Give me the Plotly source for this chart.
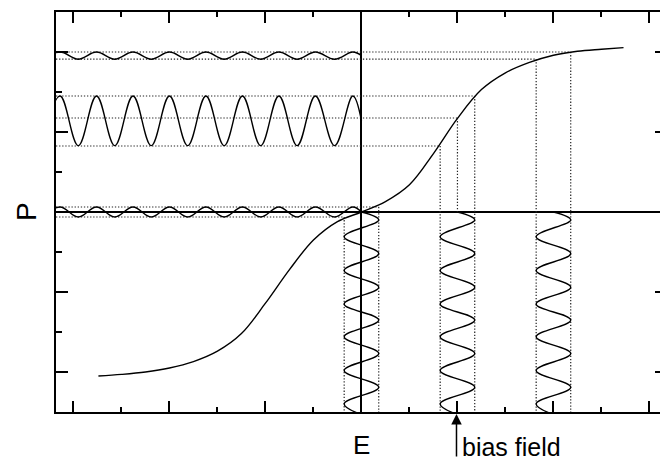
import plotly.graph_objects as go

# ---------------- data ----------------
# P(E) characteristic (sigmoid)
curve_E = [-2.74, -2.50, -2.25, -2.00, -1.75, -1.50, -1.25, -1.00, -0.75, -0.50,
           -0.25, 0.00, 0.25, 0.50, 0.75, 1.00, 1.25, 1.50, 1.75, 2.00,
           2.25, 2.50, 2.73]
curve_P = [-2.05, -2.03, -2.00, -1.95, -1.87, -1.74, -1.52, -1.14, -0.72, -0.35,
           -0.12, 0.00, 0.13, 0.34, 0.73, 1.17, 1.53, 1.74, 1.87, 1.96,
           2.01, 2.035, 2.055]

# input (driving) waves: bias levels, amplitude, turning points along P
bias_levels = [0.0, 1.0, 2.0]
drive_amp = 0.18
drive_P = [0.00, -0.10, -0.31, -0.52, -0.73, -0.94, -1.15, -1.35, -1.56,
           -1.77, -1.98, -2.19, -2.40, -2.60]
drive_side = [0, 1, -1, 1, -1, 1, -1, 1, -1, 1, -1, 1, -1, 1]

# output (response) waves: turning points along E
resp_E = [-3.33, -3.14, -2.95, -2.76, -2.57, -2.38, -2.19, -2.00, -1.81, -1.62,
          -1.43, -1.24, -1.05, -0.86, -0.67, -0.48, -0.28, -0.09, 0.00]
resp_kind = ['t', 'p', 't', 'p', 't', 'p', 't', 'p', 't', 'p',
             't', 'p', 't', 'p', 't', 'p', 't', 'p', 'c']
resp_peak = [2.00, 1.45, 0.0625]
resp_trough = [1.91, 0.83, -0.0625]
resp_center = [1.955, 1.14, 0.00]

# dotted guide lines
hguide_P = [2.00, 1.91, 1.45, 1.175, 0.825, 0.0625, -0.0625]
hguide_E_end = [2.18, 1.82, 1.18, 1.00, 0.82, 0.18, -0.18]
vguide_E = [-0.18, 0.18, 0.82, 1.00, 1.18, 1.82, 2.18]
vguide_P_top = [-0.0625, 0.0625, 0.825, 1.175, 1.45, 1.91, 2.00]
vguide_P_bot = [-2.5, -2.5, -2.5, 0.0, -2.5, -2.5, -2.5]

bias_arrow_E = 0.99

x_range = [-3.182, 3.110]
y_range = [-2.5, 2.5]

# ---------------- figure ----------------
fig = go.Figure()

gx, gy = [], []
for p, e in zip(hguide_P, hguide_E_end):
    gx += [x_range[0], e, None]
    gy += [p, p, None]
for e, t, b in zip(vguide_E, vguide_P_top, vguide_P_bot):
    gx += [e, e, None]
    gy += [t, b, None]
fig.add_trace(go.Scatter(x=gx, y=gy, mode='lines',
                         line=dict(color='#222222', width=1.2, dash='1.3px,1.8px'),
                         hoverinfo='skip', showlegend=False))

fig.add_trace(go.Scatter(x=curve_E, y=curve_P, mode='lines',
                         line=dict(color='black', width=1.4, shape='spline', smoothing=1.0),
                         hoverinfo='skip', showlegend=False))

for pk, tr, ce in zip(resp_peak, resp_trough, resp_center):
    ys = [pk if k == 'p' else (tr if k == 't' else ce) for k in resp_kind]
    fig.add_trace(go.Scatter(x=resp_E, y=ys, mode='lines',
                             line=dict(color='black', width=1.4, shape='spline', smoothing=1.1),
                             hoverinfo='skip', showlegend=False))

for c in bias_levels:
    xs = [c + s * drive_amp for s in drive_side]
    fig.add_trace(go.Scatter(x=xs, y=drive_P, mode='lines',
                             line=dict(color='black', width=1.4, shape='spline', smoothing=1.1),
                             hoverinfo='skip', showlegend=False))

# helper trace for right-side tick axis
fig.add_trace(go.Scatter(x=[0], y=[0], yaxis='y2', mode='lines',
                         line=dict(width=0), hoverinfo='skip', showlegend=False))

font = dict(family='Liberation Sans, Arial, sans-serif', color='black')

fig.update_layout(
    width=660, height=462,
    margin=dict(l=56, r=0, t=12, b=50),
    paper_bgcolor='white', plot_bgcolor='white',
    showlegend=False,
    font=font,
    xaxis=dict(range=x_range, showline=True, linewidth=2, linecolor='black',
               mirror='ticks', ticks='inside', ticklen=11, tickwidth=2, tickcolor='black',
               tick0=0, dtick=1, showticklabels=False, showgrid=False,
               zeroline=True, zerolinewidth=1.6, zerolinecolor='black',
               minor=dict(ticks='inside', ticklen=5, tickwidth=2, tickcolor='black',
                          tick0=0, dtick=0.5, showgrid=False)),
    yaxis=dict(range=y_range, showline=True, linewidth=2, linecolor='black',
               ticks='inside', ticklen=12, tickwidth=2, tickcolor='black',
               tick0=0, dtick=1, showticklabels=False, showgrid=False,
               zeroline=True, zerolinewidth=2.4, zerolinecolor='black',
               minor=dict(ticks='inside', ticklen=6, tickwidth=2, tickcolor='black',
                          tick0=0, dtick=0.5, showgrid=False)),
    yaxis2=dict(range=y_range, overlaying='y', side='right', showline=False,
                ticks='inside', ticklen=5, tickwidth=2, tickcolor='black',
                tick0=0, dtick=1, showticklabels=False, showgrid=False, zeroline=False),
    annotations=[
        dict(text='P', xref='paper', x=0, xshift=-30, xanchor='center',
             yref='y', y=0, yanchor='middle', textangle=-90, showarrow=False,
             font=dict(size=28, **font)),
        dict(text='E', xref='x', x=0, xanchor='center', yref='paper', y=0,
             yanchor='top', yshift=-16, showarrow=False, font=dict(size=26, **font)),
        dict(text='', xref='x', x=bias_arrow_E, yref='paper', y=0, yshift=-2,
             showarrow=True, axref='pixel', ayref='pixel', ax=0, ay=44,
             arrowhead=2, arrowsize=1.4, arrowwidth=1.5, arrowcolor='black'),
        dict(text='bias field', xref='x', x=1.047, xanchor='left', xshift=-2,
             yref='paper', y=0, yanchor='top', yshift=-19, showarrow=False,
             font=dict(size=25, **font)),
    ],
)

fig.write_html('out.html')
